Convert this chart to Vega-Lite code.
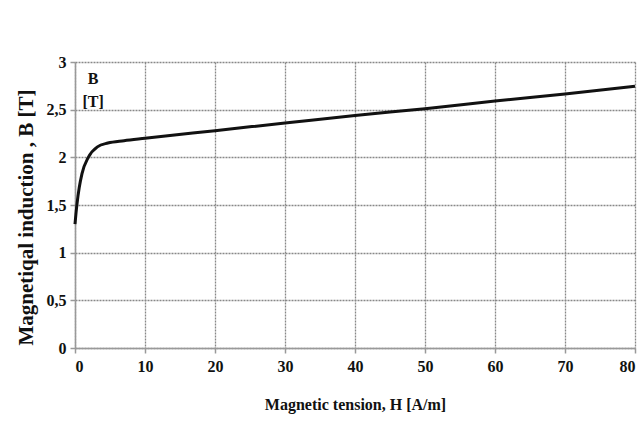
{
  "$schema": "https://vega.github.io/schema/vega-lite/v6.json",
  "width": 560,
  "height": 286,
  "autosize": {"type": "none"},
  "padding": {"left": 75, "top": 62, "right": 9, "bottom": 81},
  "background": "white",
  "config": {
    "view": {"stroke": null},
    "font": "Liberation Serif",
    "axis": {
      "labelFont": "Liberation Serif",
      "labelFontWeight": "bold",
      "labelFontSize": 16,
      "labelColor": "#111",
      "titleFont": "Liberation Serif",
      "titleFontWeight": "bold",
      "titleColor": "#111",
      "gridColor": "#888",
      "gridDash": [2, 1],
      "gridWidth": 1.3,
      "gridOpacity": 1,
      "domainColor": "#999",
      "domainWidth": 1.5,
      "tickColor": "#999",
      "tickWidth": 1.5,
      "tickSize": 5
    }
  },
  "layer": [
    {
      "data": {
        "values": [
          {"H": 0, "B": 1.3},
          {"H": 0.15, "B": 1.42},
          {"H": 0.3, "B": 1.52},
          {"H": 0.6, "B": 1.68},
          {"H": 1.0, "B": 1.83},
          {"H": 1.9, "B": 2.0},
          {"H": 3.2, "B": 2.11},
          {"H": 4.7, "B": 2.15},
          {"H": 7, "B": 2.175},
          {"H": 10, "B": 2.2},
          {"H": 20, "B": 2.28},
          {"H": 30, "B": 2.36},
          {"H": 40, "B": 2.44},
          {"H": 50, "B": 2.51},
          {"H": 60, "B": 2.59},
          {"H": 70, "B": 2.665},
          {"H": 80, "B": 2.745}
        ]
      },
      "mark": {"type": "line", "color": "#111", "strokeWidth": 3, "interpolate": "monotone"},
      "encoding": {
        "x": {
          "field": "H", "type": "quantitative",
          "scale": {"domain": [0, 80], "nice": false},
          "axis": {
            "values": [0, 10, 20, 30, 40, 50, 60, 70, 80],
            "title": "Magnetic tension, H [A/m]",
            "titleFontSize": 16,
            "titlePadding": 22,
            "labelPadding": 5
          }
        },
        "y": {
          "field": "B", "type": "quantitative",
          "scale": {"domain": [0, 3], "nice": false},
          "axis": {
            "values": [0, 0.5, 1, 1.5, 2, 2.5, 3],
            "format": "~g",
            "labelExpr": "replace(datum.label, '.', ',')",
            "title": "Magnetiqal induction , B [T]",
            "titleFontSize": 21,
            "titlePadding": 10,
            "titleY": 155,
            "labelPadding": 4
          }
        }
      }
    },
    {
      "data": {
        "values": [
          {"H": 2.6, "B": 2.82, "t": "B"},
          {"H": 2.6, "B": 2.58, "t": "[T]"}
        ]
      },
      "mark": {"type": "text", "font": "Liberation Serif", "fontWeight": "bold", "fontSize": 16, "color": "#111", "align": "center", "baseline": "middle"},
      "encoding": {
        "x": {"field": "H", "type": "quantitative"},
        "y": {"field": "B", "type": "quantitative"},
        "text": {"field": "t"}
      }
    }
  ]
}
